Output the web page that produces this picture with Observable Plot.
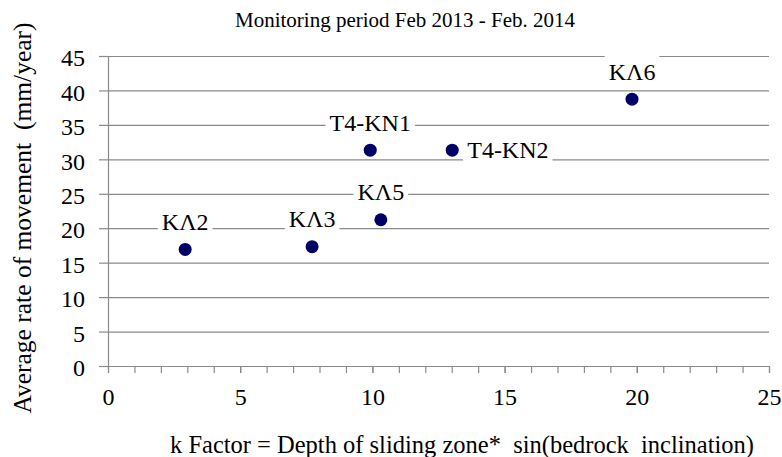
<!DOCTYPE html>
<html>
<head>
<meta charset="utf-8">
<script src="https://cdn.jsdelivr.net/npm/d3@7"></script>
<script src="https://cdn.jsdelivr.net/npm/@observablehq/plot@0.6"></script>
<style>
  * { font-family: 'Liberation Serif', 'Times New Roman', serif !important; }
  html, body { margin: 0; padding: 0; background: #fff; }
  body { position: relative; width: 782px; height: 457px; overflow: hidden; color: #000; }
  #title { position: absolute; left: 0; top: 0; width: 782px; height: 30px; line-height: 40px; font-size: 21px;
           text-align: center; padding-left: 28px; box-sizing: border-box; white-space: pre; }
  #chart { position: absolute; left: 0; top: 30px; }
  #chart svg { display: block; }
  #xlabel { position: absolute; left: 0; top: 415px; width: 782px; height: 42px; line-height: 59px; font-size: 24.5px;
            text-align: center; padding-left: 142px; box-sizing: border-box; white-space: pre; }
  #ylabel { position: absolute; left: -187px; top: 202.5px; width: 420px; height: 30px; line-height: 30px; font-size: 25.5px;
            text-align: center; white-space: pre; transform: rotate(-90deg); transform-origin: 50% 50%; }
</style>
</head>
<body>
<div id="chart"></div>
<div id="title"></div>
<div id="xlabel"></div>
<div id="ylabel"></div>
<script>
const titleText = "Monitoring period Feb 2013 - Feb. 2014";
const xLabel = "k Factor = Depth of sliding zone*  sin(bedrock  inclination)";
const yLabel = "Average rate of movement  (mm/year)";
const names = ["KΛ2", "KΛ3", "T4-KN1", "KΛ5", "T4-KN2", "KΛ6"];
const kFactor = [2.9, 7.7, 9.9, 10.3, 13.0, 19.8];
const rate = [17.0, 17.4, 31.4, 21.3, 31.4, 38.8];
const labelSide = ["top", "top", "top", "top", "right", "top"];
const xTicks = [0, 5, 10, 15, 20, 25];
const xMinorTicks = d3.range(0, 26, 1);
const yTicks = [0, 5, 10, 15, 20, 25, 30, 35, 40, 45];

document.getElementById("title").textContent = titleText;
document.getElementById("xlabel").textContent = xLabel;
document.getElementById("ylabel").textContent = yLabel;

const data = names.map((n, i) => ({name: n, k: kFactor[i], rate: rate[i], side: labelSide[i]}));

const grey = "#8a8a8a";
const fontFamily = "'Liberation Serif', 'Times New Roman', serif";

const plot = Plot.plot({
  width: 782,
  height: 385,
  marginTop: 26,
  marginBottom: 49,
  marginLeft: 108,
  marginRight: 13,
  style: {fontFamily, fontSize: "24px", color: "#000", background: "#fff"},
  x: {domain: [0, 25]},
  y: {domain: [0, 45]},
  marks: [
    Plot.gridY(yTicks, {stroke: grey, strokeOpacity: 1, strokeWidth: 1.2}),
    Plot.ruleX([0], {stroke: grey, strokeWidth: 1.2}),
    Plot.axisY(yTicks, {tickSize: 9, stroke: grey, strokeWidth: 1.2, tickFormat: () => "", label: null}),
    Plot.axisY(yTicks, {tickSize: 0, tickPadding: 23.5, dy: 2, fontSize: 24, label: null}),
    Plot.axisX(xMinorTicks, {tickSize: 7, stroke: grey, strokeWidth: 1.2, tickFormat: () => "", label: null}),
    Plot.axisX(xTicks, {tickSize: 7, tickPadding: 14, stroke: grey, strokeWidth: 1.2, fontSize: 24, label: null}),
    Plot.text(data.filter(d => d.side === "top"), {
      x: "k", y: "rate", text: "name", dy: -27, fontSize: 24, fill: "#000"
    }),
    Plot.text(data.filter(d => d.side === "right"), {
      x: "k", y: "rate", text: "name", dx: 15, textAnchor: "start", fontSize: 24, fill: "#000"
    }),
    Plot.dot(data, {x: "k", y: "rate", r: 6.5, fill: "#000066", stroke: "none"})
  ]
});
document.getElementById("chart").appendChild(plot);

// White label boxes behind the point labels (like the spreadsheet's data-label boxes)
const nameSet = new Set(names);
plot.querySelectorAll("text").forEach(t => {
  if (!nameSet.has(t.textContent)) return;
  const b = t.getBBox();
  const padX = 4, padY = 4;
  const r = document.createElementNS("http://www.w3.org/2000/svg", "rect");
  r.setAttribute("x", b.x - padX);
  r.setAttribute("y", b.y - padY);
  r.setAttribute("width", b.width + 2 * padX);
  r.setAttribute("height", b.height + 2 * padY);
  r.setAttribute("fill", "#fff");
  const tr = t.getAttribute("transform");
  if (tr) r.setAttribute("transform", tr);
  t.parentNode.insertBefore(r, t);
});
</script>
</body>
</html>
